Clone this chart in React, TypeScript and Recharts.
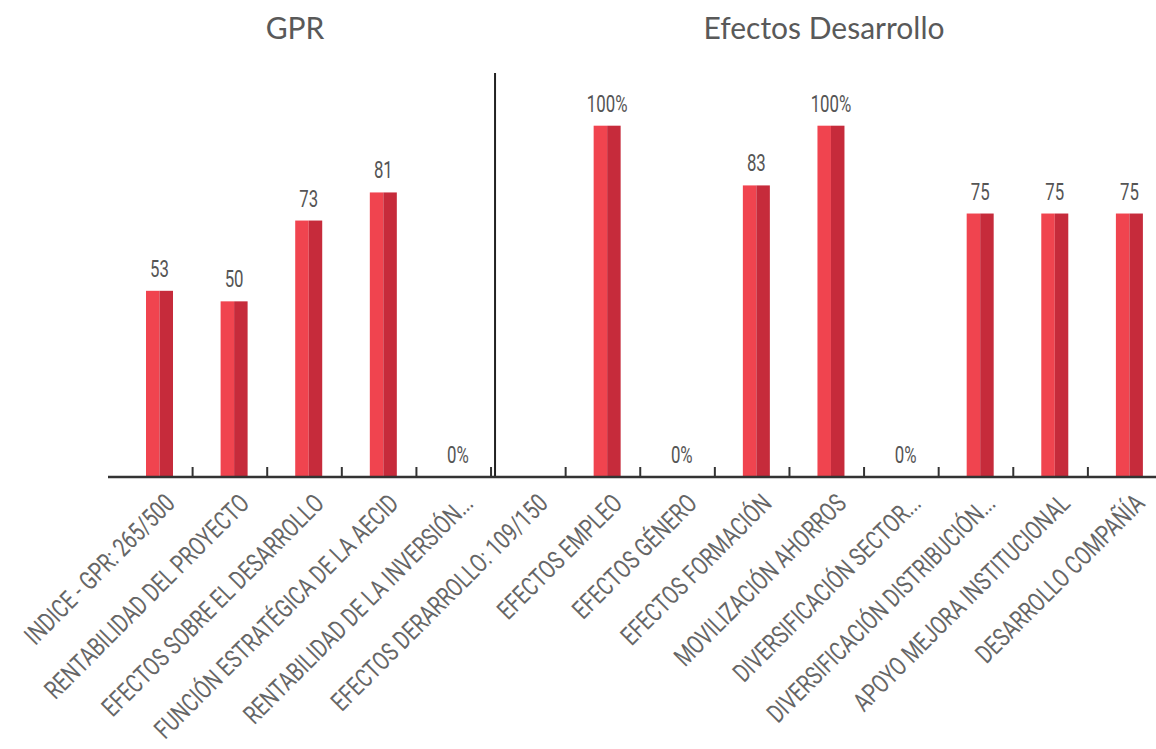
import React from "react";
import {
  BarChart,
  Bar,
  XAxis,
  YAxis,
  ReferenceLine,
  LabelList,
} from "recharts";

const categories = [
  "INDICE - GPR: 265/500",
  "RENTABILIDAD DEL PROYECTO",
  "EFECTOS SOBRE EL DESARROLLO",
  "FUNCIÓN ESTRATÉGICA DE LA AECID",
  "RENTABILIDAD DE LA INVERSIÓN...",
  "EFECTOS DERARROLLO: 109/150",
  "EFECTOS EMPLEO",
  "EFECTOS GÉNERO",
  "EFECTOS FORMACIÓN",
  "MOVILIZACIÓN AHORROS",
  "DIVERSIFICACIÓN SECTOR...",
  "DIVERSIFICACIÓN DISTRIBUCIÓN...",
  "APOYO MEJORA INSTITUCIONAL",
  "DESARROLLO COMPAÑÍA",
];
const scores = [53, 50, 73, 81, 0, 0, 100, 0, 83, 100, 0, 75, 75, 75];
const scoreLabels = ["53", "50", "73", "81", "0%", "", "100%", "0%", "83", "100%", "0%", "75", "75", "75"];
const groupTitles = ["GPR", "Efectos Desarrollo"];

const data = categories.map((name, i) => ({ name, score: scores[i], label: scoreLabels[i] }));

const W = 1170;
const H = 749;
const TOP = 73;
const AXIS_H = 272;
const AXIS_Y = H - AXIS_H;
const BAND = 74.6;

const LIGHT = "#f0444f";
const DARK = "#c62b3b";

const TwoToneBar = (props: any) => {
  const { x, y, width, height } = props;
  if (!height || height <= 0) return null;
  return (
    <g>
      <rect x={x} y={y} width={width / 2} height={height} fill={LIGHT} />
      <rect x={x + width / 2} y={y} width={width / 2} height={height} fill={DARK} />
    </g>
  );
};

const CategoryTick = (props: any) => {
  const { x, payload, index } = props;
  return (
    <g>
      {index < categories.length - 1 && (
        <line
          x1={x + BAND / 2 - 4}
          x2={x + BAND / 2 - 4}
          y1={AXIS_Y}
          y2={AXIS_Y - 10}
          stroke="#333"
          strokeWidth={2}
        />
      )}
      <text
        transform={`translate(${x + 17},${AXIS_Y + 28}) rotate(-45) scale(0.76,1)`}
        textAnchor="end"
        fill="#666"
        fontSize={26}
        fontFamily="Roboto, sans-serif"
      >
        {payload.value}
      </text>
    </g>
  );
};

const ValueLabel = (props: any) => {
  const { x, y, width, index } = props;
  const txt = scoreLabels[index];
  if (!txt) return null;
  return (
    <text
      transform={`translate(${x + width / 2},${y - 14}) scale(0.7,1)`}
      textAnchor="middle"
      fill="#555"
      fontSize={24}
      fontFamily="Roboto, sans-serif"
    >
      {txt}
    </text>
  );
};

export default function App() {
  return (
    <div
      style={{
        position: "absolute",
        left: 0,
        top: 0,
        width: 1156,
        height: 749,
        overflow: "hidden",
        background: "#fff",
      }}
    >
      <div
        style={{
          position: "absolute",
          left: 195,
          width: 200,
          top: 9,
          textAlign: "center",
          fontFamily: "Lato, sans-serif",
          fontSize: 30,
          color: "#595959",
        }}
      >
        {groupTitles[0]}
      </div>
      <div
        style={{
          position: "absolute",
          left: 674,
          width: 300,
          top: 9,
          textAlign: "center",
          fontFamily: "Lato, sans-serif",
          fontSize: 30,
          color: "#595959",
        }}
      >
        {groupTitles[1]}
      </div>
      <BarChart
        width={W}
        height={H}
        data={data}
        margin={{ top: TOP, right: 3.5, bottom: 0, left: 108 }}
      >
        <XAxis
          dataKey="name"
          interval={0}
          height={AXIS_H}
          padding={{ left: 14, right: 0 }}
          axisLine={{ stroke: "#333", strokeWidth: 2.5 }}
          tickLine={false}
          tick={<CategoryTick />}
        />
        <YAxis hide domain={[0, 115]} />
        <ReferenceLine
          x={categories[5]}
          position="start"
          stroke="#222"
          strokeWidth={2}
        />
        <Bar dataKey="score" barSize={27} shape={<TwoToneBar />} isAnimationActive={false}>
          <LabelList dataKey="label" content={<ValueLabel />} />
        </Bar>
      </BarChart>
    </div>
  );
}
